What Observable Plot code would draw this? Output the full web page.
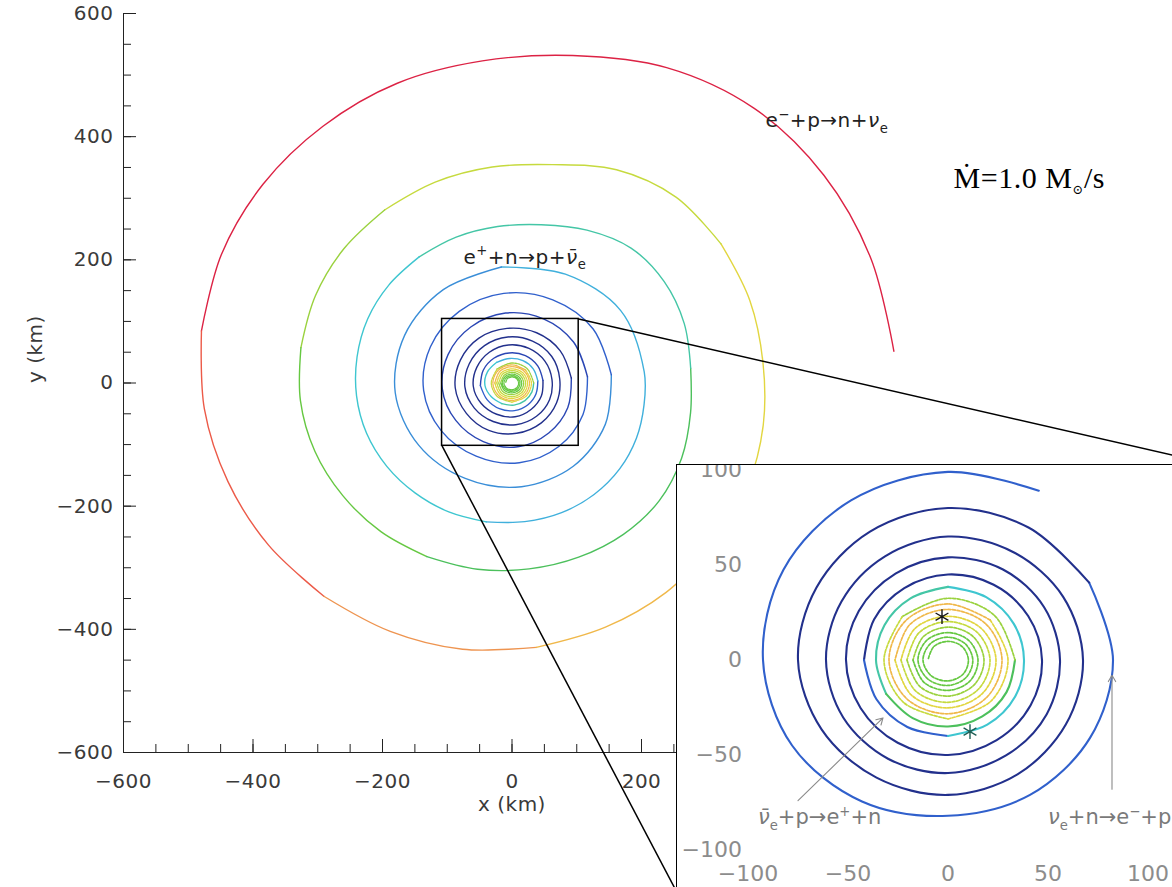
<!DOCTYPE html>
<html>
<head>
<meta charset="utf-8">
<script src="https://cdn.jsdelivr.net/npm/d3@7"></script>
<script src="https://cdn.jsdelivr.net/npm/@observablehq/plot@0.6"></script>
<style>
  html, body { margin: 0; padding: 0; background: #fff; width: 1172px; height: 887px; overflow: hidden; }
  #main { position: absolute; left: 0; top: 0; }
  #inset { position: absolute; left: 676px; top: 464px; width: 537px; height: 427px;
           box-sizing: border-box; border: 1.5px solid #000; background: #fff; overflow: hidden; }
</style>
</head>
<body>
<div id="main"></div>
<div id="inset"></div>
<script>
// ---------------------------------------------------------------------------
// Inspiralling trajectory of an accreted fluid element, given as orbital
// radius r (km) against cumulative polar angle (degrees, counter-clockwise),
// and coloured by the electron fraction Ye carried along the path.
// ---------------------------------------------------------------------------

// Full view: angle grid (15 deg steps for the three outer turns, 30 deg after)
const mainTheta = [
  ...d3.range(5, 360, 15), ...d3.range(365, 720, 15), ...d3.range(725, 1080, 15),
  ...d3.range(3, 11).flatMap((k) => d3.range(k * 360 + 5, k * 360 + 360, 30)),
  3960
];
const mainR = [
  592, 590, 588, 582, 565, 540, 525, 518, 509, 502, 495, 487, 477, 467, 459, 452, 445, 439, 431, 422, 415, 408, 401, 394,
  389, 391, 394, 394, 382, 360, 352, 347, 343, 339, 335, 331, 328, 324, 319, 315, 311, 307, 303, 301, 300, 297, 289, 280,
  277, 283, 287, 286, 274, 261, 255, 252, 250, 248, 246, 243, 241, 239, 236, 233, 231, 229, 226, 224, 221, 217, 212, 207,
  205, 205, 195, 189, 185, 183, 181, 176, 171, 169, 165, 159,
  154, 153, 149, 146, 142, 139, 137, 134, 131, 130, 126, 121,
  117, 116, 115, 114, 111, 109, 108, 106, 105, 104, 99, 95,
  92, 91, 90, 89, 89, 88, 88, 86, 85, 82, 79, 76,
  74, 75, 75, 75, 74, 73, 73, 71, 69, 68, 66, 64,
  62, 62, 62, 62, 61, 60, 60, 58, 56, 55, 52, 50,
  48, 48.5, 49, 49, 49, 49, 49, 47, 46, 45, 43, 41,
  40, 40, 40, 40, 41, 42, 42, 39, 37, 36, 35, 34,
  33.5
];
const mainYe = [
  .50, .50, .50, .50, .50, .50, .50, .50, .49, .49, .49, .48, .47, .47, .46, .45, .44, .43, .42, .41, .40, .39, .39, .38,
  .37, .37, .36, .36, .35, .35, .34, .34, .33, .32, .31, .30, .29, .29, .28, .28, .27, .27, .27, .26, .26, .26, .25, .25,
  .24, .24, .24, .23, .23, .23, .22, .22, .21, .21, .20, .20, .20, .19, .19, .19, .19, .18, .18, .18, .18, .17, .17, .17,
  .17, .17, .17, .16, .16, .16, .16, .16, .15, .15, .15, .15,
  .14, .14, .14, .14, .14, .14, .13, .13, .13, .13, .13, .13,
  .12, .12, .12, .12, .12, .12, .12, .12, .12, .12, .12, .12,
  .10, .10, .10, .10, .10, .10, .10, .10, .10, .10, .10, .10,
  .10, .10, .10, .10, .10, .10, .10, .10, .10, .10, .10, .10,
  .10, .10, .10, .10, .10, .10, .10, .10, .10, .10, .10, .10,
  .12, .12, .12, .12, .12, .12, .13, .13, .13, .13, .13, .13,
  .17, .17, .17, .17, .20, .20, .20, .20, .24, .24, .24, .24,
  .24
];

// Zoomed view: the last turns before the core (30 deg steps)
const insetTheta = [63, ...d3.range(90, 2161, 30)];
const insetR = [
  100, 99, 97, 95, 92.5, 90, 86, 82, 82, 82, 82.5,
  81.5, 80.5, 80, 78, 76, 75, 73, 71.5, 71, 69.5, 68, 67.5,
  66.5, 65.5, 65, 63, 61.5, 61, 60.5, 60, 59.5, 58, 57, 56,
  55.5, 55, 54, 52.5, 51.5, 51, 50.5, 50.3, 50, 48.7, 47.7, 47,
  46.3, 45.7, 45, 43.7, 42.7, 42, 41.3, 40.7, 40, 39.3, 38.7, 38,
  38, 38.2, 38.5, 37.5, 36.7, 36, 35.7, 35.3, 35, 34.3, 33.8, 33.5
];
const insetYe = [
  .14, .14, .14, .14, .14, .14, .14, .14, .14, .14, .14,
  .10, .10, .10, .10, .10, .10, .10, .10, .10, .10, .10, .10,
  .10, .10, .10, .10, .10, .10, .10, .10, .10, .10, .10, .10,
  .10, .10, .10, .10, .10, .10, .10, .10, .10, .10, .10, .10,
  .10, .10, .10, .10, .10, .13, .13, .13, .20, .20, .20, .20,
  .20, .20, .24, .24, .24, .24, .27, .27, .27, .27, .27, .27
];

// Tightly wound core, 45 deg steps from angle 0 (drawn dashed in both views)
const coreR = [
  33.5, 33, 32.5, 32.3, 32, 31.5, 31, 30.5,
  30, 29.8, 29.5, 29.6, 29.5, 29, 28.3, 27.6,
  27, 26.8, 26.6, 26.7, 26.5, 26, 25.2, 24.6,
  24, 23.5, 23, 23.4, 23.5, 23, 22.3, 21.6,
  21, 20.6, 20.2, 20.4, 20.5, 19.8, 19, 18.5,
  18, 17.6, 17.3, 17.4, 17.5, 16.8, 16, 15.6,
  15, 14.6, 14.4, 14.8, 15, 14.2, 13.4, 12.9,
  12.4, 12.1, 12, 12.3, 12.5, 11.8, 11, 10.6,
  10.2, 10, 9.8, 10, 10
];
const coreYe = [
  .33, .33, .33, .36, .36, .36, .38, .38,
  .38, .41, .41, .41, .41, .41, .41, .41,
  .41, .41, .41, .41, .39, .39, .39, .39,
  .39, .39, .39, .39, .36, .36, .36, .36,
  .36, .36, .36, .36, .33, .33, .33, .33,
  .33, .33, .33, .33, .30, .30, .30, .30,
  .30, .30, .30, .30, .30, .30, .30, .30,
  .30, .30, .30, .30, .30, .30, .30, .30,
  .30, .30, .30, .30, .30
];
const coreTheta = coreR.map((r, i) => i * 45);

// Marked positions on the inner orbits (km)
const starX = [-3, 11];
const starY = [22.8, -37.7];

// Region enlarged in the inset (km)
const zoomBox = {x1: -108, x2: 103, y1: -102, y2: 104};

// Axis ticks
const mainMajor = [-600, -400, -200, 0, 200, 400, 600];
const mainMinor = d3.range(-600, 601, 50);
const insetTicks = [-100, -50, 0, 50, 100];

// Reaction labels (km)
const mainLabelX = [391.5, -75];
const mainLabelY = [426, 204];
const mainLabelText = ["ecap", "pcap"];
const rateLabelX = [682];
const rateLabelY = [332];
const insetLabelX = [-95, 50];
const insetLabelY = [-83, -83];
const insetLabelText = ["nuebar", "nue"];
const insetArrowX1 = [-75, 82], insetArrowY1 = [-74, -68];
const insetArrowX2 = [-32.5, 82], insetArrowY2 = [-30.5, -8];

// Rich (super/subscript) versions of the label keys
const richParts = {
  ecap:   [["e"], ["\u2212", "sup"], ["+p\u2192n+"], ["\u03bd", "it"], ["e", "sub"]],
  pcap:   [["e"], ["+", "sup"], ["+n\u2192p+"], ["\u03bd\u0304", "it"], ["e", "sub"]],
  rate:   [["\u1e40=1.0 M"], ["\u2299", "sub"], ["/s"]],
  nuebar: [["\u03bd\u0304", "it"], ["e", "sub"], ["+p\u2192e"], ["+", "sup"], ["+n"]],
  nue:    [["\u03bd", "it"], ["e", "sub"], ["+n\u2192e"], ["\u2212", "sup"], ["+p"]]
};

// ---------------------------------------------------------------------------
const rad = Math.PI / 180;
const polar = (T, R, V) => T.map((t, i) => ({x: R[i] * Math.cos(t * rad), y: R[i] * Math.sin(t * rad), ye: V[i]}));
const mainPath = polar(mainTheta, mainR, mainYe);
const insetPath = polar(insetTheta, insetR, insetYe);
const corePath = polar(coreTheta, coreR, coreYe);

// Rainbow colouring of Ye in discrete bands, low = dark blue, high = red.
// Consecutive points in the same band form one smooth curve.
const yeBand = d3.scaleThreshold()
  .domain([.115, .13, .15, .17, .19, .22, .25, .28, .31, .34, .37, .40, .43, .46, .49])
  .range(["#22308c", "#2a46b4", "#3060cc", "#3a8ed8", "#40b0dc", "#3ec6d0", "#44c6a6", "#4cc05c",
          "#66c842", "#9ad23e", "#c6da3e", "#e2d640", "#f0b84a", "#ee9450", "#ec5a48", "#dc2244"]);
const bandStroke = (d) => yeBand(d.ye);

// Main panel geometry
const M = {width: 1172, height: 887, ml: 123, mr: 272, mt: 13, mb: 135};
const plotW = M.width - M.ml - M.mr;
const plotH = M.height - M.mt - M.mb;
const dom = [-600, 600];
const pxToX = (px) => dom[0] + (px - M.ml) / plotW * (dom[1] - dom[0]);
const pxToY = (py) => dom[1] - (py - M.mt) / plotH * (dom[1] - dom[0]);

// Inset placement on the page (matches the #inset box)
const insetBox = {left: 676, top: 464, width: 537, height: 427};
const connectors = [
  {x1: zoomBox.x2, y1: zoomBox.y2, x2: pxToX(insetBox.left + insetBox.width), y2: pxToY(insetBox.top)},
  {x1: zoomBox.x1, y1: zoomBox.y1, x2: pxToX(insetBox.left), y2: pxToY(insetBox.top + insetBox.height)}
];

const sans = "DejaVu Sans, Verdana, sans-serif";

const mainPlot = Plot.plot({
  width: M.width, height: M.height,
  marginLeft: M.ml, marginRight: M.mr, marginTop: M.mt, marginBottom: M.mb,
  x: {domain: dom}, y: {domain: dom},
  color: {type: "identity"},
  style: {fontFamily: sans, fontSize: "20px", color: "#3a3a3a", background: "#fff", letterSpacing: "0.5px"},
  marks: [
    Plot.line(mainPath, {x: "x", y: "y", stroke: bandStroke, z: null, curve: "catmull-rom", strokeWidth: 1.4}),
    Plot.line(corePath, {x: "x", y: "y", stroke: bandStroke, z: null, curve: "catmull-rom", strokeWidth: 1.3, strokeDasharray: "2,1"}),
    // axis lines and inward ticks
    Plot.ruleX([dom[0]], {stroke: "#222"}),
    Plot.ruleY([dom[0]], {stroke: "#222"}),
    Plot.tickY(mainMinor, {y: (d) => d, insetRight: plotW - 8, stroke: "#222"}),
    Plot.tickY(mainMajor, {y: (d) => d, insetRight: plotW - 13, stroke: "#222"}),
    Plot.tickX(mainMinor, {x: (d) => d, insetTop: plotH - 8, stroke: "#222"}),
    Plot.tickX(mainMajor, {x: (d) => d, insetTop: plotH - 13, stroke: "#222"}),
    Plot.axisY({ticks: mainMajor, tickSize: 0, tickPadding: 10, label: null}),
    Plot.axisX({ticks: mainMajor, tickSize: 0, tickPadding: 21, label: null}),
    Plot.text(["x (km)"], {text: (d) => d, frameAnchor: "bottom", dy: 58}),
    Plot.text(["y (km)"], {text: (d) => d, frameAnchor: "left", dx: -88, rotate: -90}),
    // zoom window and its connectors
    Plot.rect([zoomBox], {x1: "x1", x2: "x2", y1: "y1", y2: "y2", fill: "none", stroke: "#000", strokeWidth: 1.5}),
    Plot.link(connectors, {x1: "x1", y1: "y1", x2: "x2", y2: "y2", stroke: "#000", strokeWidth: 1.5}),
    // labels
    Plot.text(mainLabelText, {x: (d, i) => mainLabelX[i], y: (d, i) => mainLabelY[i], text: (d) => d,
      textAnchor: "start", fill: "#222", fontSize: 20}),
    Plot.text(["rate"], {x: (d, i) => rateLabelX[i], y: (d, i) => rateLabelY[i], text: (d) => d,
      textAnchor: "start", fill: "#000", fontSize: 30, fontFamily: "Liberation Serif, DejaVu Serif, serif"})
  ]
});

// Inset geometry: plot area spans -100..100 on both axes
const I = {width: 534, height: 424, ml: 70.5, mr: 63.5, mt: 4.5, mb: 39.5};

const insetPlot = Plot.plot({
  width: I.width, height: I.height,
  marginLeft: I.ml, marginRight: I.mr, marginTop: I.mt, marginBottom: I.mb,
  x: {domain: [-100, 100]}, y: {domain: [-100, 100]},
  color: {type: "identity"},
  style: {fontFamily: sans, fontSize: "22px", color: "#8c8c8c", background: "#fff"},
  marks: [
    Plot.line(insetPath, {x: "x", y: "y", stroke: bandStroke, z: null, curve: "catmull-rom", strokeWidth: 2.1}),
    Plot.line(corePath, {x: "x", y: "y", stroke: bandStroke, z: null, curve: "catmull-rom", strokeWidth: 1.7, strokeDasharray: "3,1.6"}),
    Plot.dot([0], {x: () => starX[0], y: () => starY[0], symbol: "asterisk", r: 7, stroke: "#151515", strokeWidth: 1.4}),
    Plot.dot([1], {x: () => starX[1], y: () => starY[1], symbol: "asterisk", r: 7, stroke: "#1f5f55", strokeWidth: 1.4}),
    Plot.arrow(insetArrowX1, {x1: (d, i) => insetArrowX1[i], y1: (d, i) => insetArrowY1[i],
      x2: (d, i) => insetArrowX2[i], y2: (d, i) => insetArrowY2[i], stroke: "#8a8a8a", strokeWidth: 1.1, headLength: 10}),
    Plot.text(insetLabelText, {x: (d, i) => insetLabelX[i], y: (d, i) => insetLabelY[i], text: (d) => d,
      textAnchor: "start", fill: "#7a7a7a", fontSize: 21}),
    Plot.axisY({ticks: insetTicks, tickSize: 0, tickPadding: 6, label: null}),
    Plot.axisX({ticks: insetTicks, tickSize: 0, tickPadding: 15, label: null})
  ]
});

// Replace label keys with properly set super/subscripts
function enrich(svg) {
  svg.querySelectorAll("text").forEach((el) => {
    const parts = richParts[el.textContent];
    if (!parts) return;
    const fs = parseFloat(el.getAttribute("font-size")) || 20;
    const t = d3.select(el);
    t.text(null);
    let shift = 0;
    for (const [s, kind] of parts) {
      const target = kind === "sup" ? -0.42 * fs : kind === "sub" ? 0.28 * fs : 0;
      const ts = t.append("tspan").text(s).attr("dy", target - shift);
      shift = target;
      if (kind === "sup" || kind === "sub") ts.attr("font-size", 0.66 * fs);
      if (kind === "it") ts.attr("font-style", "italic");
    }
  });
}
enrich(mainPlot);
enrich(insetPlot);

document.getElementById("main").appendChild(mainPlot);
document.getElementById("inset").appendChild(insetPlot);
</script>
</body>
</html>
